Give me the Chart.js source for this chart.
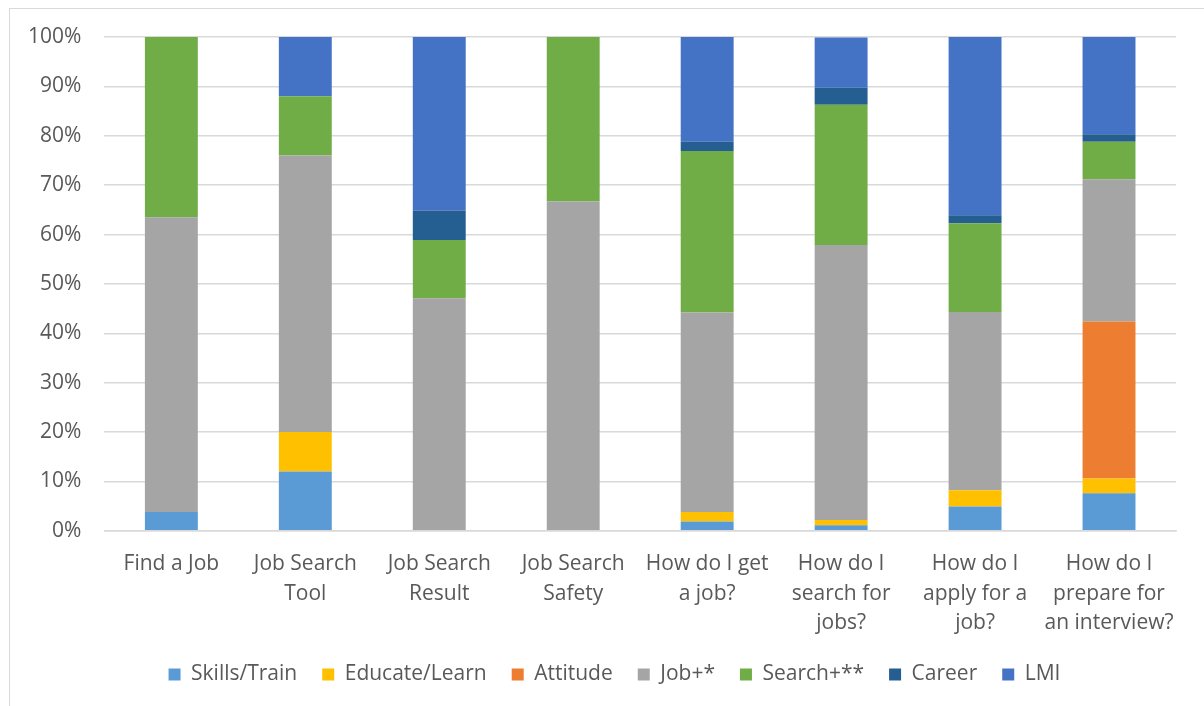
<!DOCTYPE html>
<html>
<head>
<meta charset="utf-8">
<script src="https://cdn.jsdelivr.net/npm/chart.js@4.4.1/dist/chart.umd.min.js"></script>
<style>
  html, body { margin: 0; padding: 0; background: #fff; overflow: hidden; }
  #frame {
    position: absolute; left: 9px; top: 8px; width: 1400px; height: 900px;
    border: 1px solid #d9d9d9;
  }
  #myChart { position: absolute; left: 0; top: 0; }
</style>
</head>
<body>
<div id="frame"></div>
<canvas id="myChart" width="1204" height="706"></canvas>
<script>
const categories = [
  'Find a Job',
  ['Job Search', 'Tool'],
  ['Job Search', 'Result'],
  ['Job Search', 'Safety'],
  ['How do I get', 'a job?'],
  ['How do I', 'search for', 'jobs?'],
  ['How do I', 'apply for a', 'job?'],
  ['How do I', 'prepare for', 'an interview?']
];

// shares in percent
const skillsTrain = [3.8, 12, 0, 0, 1.9, 1.1, 4.9, 7.6];
const educateLearn = [0, 8, 0, 0, 1.9, 1.1, 3.3, 3.0];
const attitude = [0, 0, 0, 0, 0, 0, 0, 31.8];
const jobPlus = [59.7, 56, 47.1, 66.7, 40.4, 55.7, 36.1, 28.8];
const searchPlus = [36.5, 12, 11.8, 33.3, 32.7, 28.4, 18.0, 7.6];
const career = [0, 0, 5.9, 0, 1.9, 3.4, 1.6, 1.5];
const lmi = [0, 12, 35.3, 0, 21.2, 10.2, 36.1, 19.7];

const yTicks = [0, 10, 20, 30, 40, 50, 60, 70, 80, 90, 100];

const seriesNames = ['Skills/Train', 'Educate/Learn', 'Attitude', 'Job+*', 'Search+**', 'Career', 'LMI'];
const seriesData = [skillsTrain, educateLearn, attitude, jobPlus, searchPlus, career, lmi];
const seriesColors = ['#5b9bd5', '#ffc000', '#ed7d31', '#a5a5a5', '#70ad47', '#255e91', '#4472c4'];

const textColor = '#595959';
const gridColor = '#d9d9d9';
const fontFamily = '"Open Sans", "Noto Sans", sans-serif';

// the legend in the picture sits a little right of the plot's centre
const legendShift = {
  id: 'legendShift',
  beforeDraw(chart) {
    if (chart.legend && !chart.legend._shifted) {
      chart.legend.left += 24;
      chart.legend.right += 24;
      chart.legend._shifted = true;
    }
  }
};

function initChart(target) {
  const data = {
    labels: categories,
    datasets: seriesNames.map((name, i) => ({
      label: name,
      data: seriesData[i],
      backgroundColor: seriesColors[i],
      borderWidth: 0,
      categoryPercentage: 1,
      barPercentage: 0.395
    }))
  };

  const config = {
    type: 'bar',
    data: data,
    plugins: [legendShift],
    options: {
      responsive: false,
      animation: false,
      layout: { padding: { top: 37, right: 28, bottom: 11, left: 5 } },
      plugins: {
        tooltip: { enabled: false },
        legend: {
          position: 'bottom',
          labels: {
            boxWidth: 12,
            boxHeight: 12,
            padding: 25,
            color: textColor,
            font: { family: fontFamily, size: 21 }
          }
        }
      },
      scales: {
        x: {
          stacked: true,
          grid: { display: false, drawTicks: false },
          border: { color: gridColor, width: 1.5 },
          ticks: {
            color: textColor,
            padding: 19,
            maxRotation: 0,
            autoSkip: false,
            font: { family: fontFamily, size: 21, lineHeight: 1.4 }
          },
          afterFit: (axis) => {
            axis.height -= 18;
          }
        },
        y: {
          stacked: true,
          min: 0,
          max: 100,
          afterBuildTicks: (axis) => {
            axis.ticks = yTicks.map((v) => ({ value: v }));
          },
          grid: { color: gridColor, lineWidth: 1.5, drawTicks: false },
          border: { display: false },
          ticks: {
            color: textColor,
            padding: 23,
            font: { family: fontFamily, size: 21 },
            callback: (v) => v + '%'
          }
        }
      }
    }
  };

  return new Chart(target, config);
}

document.addEventListener('DOMContentLoaded', () => {
  initChart(document.querySelector('#myChart'));
});
</script>
</body>
</html>
